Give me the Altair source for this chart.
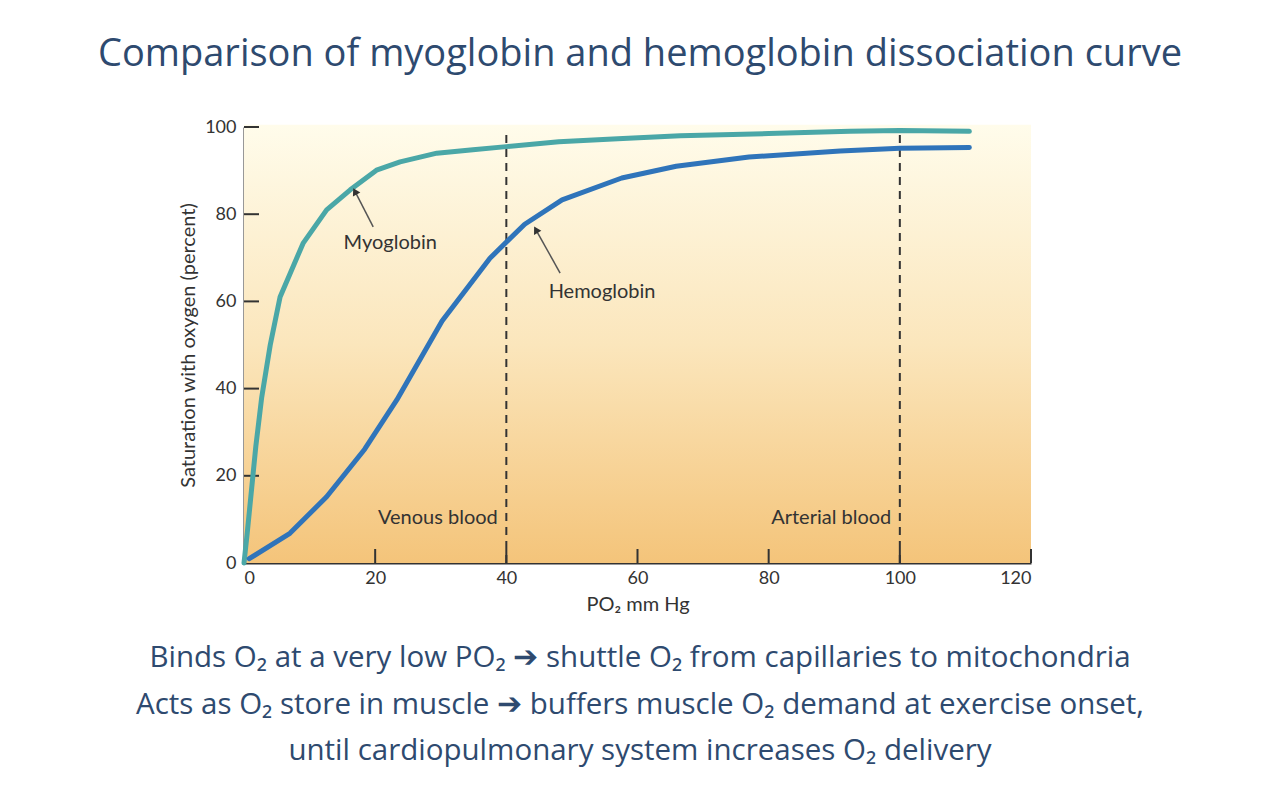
import altair as alt
import pandas as pd

# ---- data ----
myo_po2 = [0, 0.5, 1.8, 2.7, 4.0, 5.5, 9.0, 12.6, 16.2, 20.2, 23.8, 29.4, 34.5, 40, 48, 57, 66.5, 80, 92.4, 100, 110.6]
myo_sat = [0, 7, 26.7, 38, 50, 61, 73.3, 81, 85.6, 90.1, 92, 94, 94.7, 95.5, 96.6, 97.3, 98, 98.5, 99, 99.2, 99]

hb_po2 = [0.8, 7.0, 12.6, 18.4, 23.3, 30.2, 37.5, 42.8, 48.5, 57.6, 65.9, 77, 90.9, 100, 110.6]
hb_sat = [1, 6.8, 15.2, 26.1, 37.4, 55.5, 69.9, 77.7, 83.3, 88.3, 91, 93.1, 94.5, 95.1, 95.3]

x_ticks = [0, 20, 40, 60, 80, 100, 120]
y_ticks = [0, 20, 40, 60, 80, 100]
ref_po2 = [40, 100]
ref_names = ["Venous blood", "Arterial blood"]

curve_names = ["Myoglobin", "Hemoglobin"]
label_pos = [(22.3, 73.4), (54.6, 62.2)]
arrow_tail = [(19.7, 77.1), (48.2, 66.5)]
arrow_tip = [(17.0, 85.0), (44.6, 76.2)]
arrow_angle = [332, 331]

title_text = "Comparison of myoglobin and hemoglobin dissociation curve"
bottom_lines = [
    "Binds O\u2082 at a very low PO\u2082 \u2794 shuttle O\u2082 from capillaries to mitochondria",
    "Acts as O\u2082 store in muscle \u2794 buffers muscle O\u2082 demand at exercise onset,",
    "until cardiopulmonary system increases O\u2082 delivery",
]

# ---- tables ----
myo_df = pd.DataFrame({"po2": myo_po2, "sat": myo_sat})
hb_df = pd.DataFrame({"po2": hb_po2, "sat": hb_sat})
bg_df = pd.DataFrame({"x": [0], "x2": [120], "y": [0], "y2": [100.5]})
xt_df = pd.DataFrame({"v": x_ticks[1:]})
yt_df = pd.DataFrame({"v": y_ticks[1:]})
ref_df = pd.DataFrame({"po2": ref_po2, "name": ref_names, "lab_x": [p - 1.3 for p in ref_po2],
                       "y0": [0] * 2, "y1": [99] * 2, "ly": [10.3] * 2})
lab_df = pd.DataFrame({"name": curve_names, "x": [p[0] for p in label_pos], "y": [p[1] for p in label_pos]})
arr_df = pd.DataFrame({
    "x": [t[0] for t in arrow_tail], "y": [t[1] for t in arrow_tail],
    "x2": [t[0] for t in arrow_tip], "y2": [t[1] for t in arrow_tip],
    "angle": arrow_angle,
})

AX = "#333333"
LAB_FONT = "Lato"

xs = alt.Scale(domain=[0, 120], nice=False, zero=False)
ys = alt.Scale(domain=[0, 100], nice=False, zero=False)

bg = alt.Chart(bg_df).mark_rect(
    color=alt.Gradient(
        gradient="linear",
        stops=[
            alt.GradientStop(color="#FFFCEB", offset=0),
            alt.GradientStop(color="#FBE6BC", offset=0.5),
            alt.GradientStop(color="#F4C47A", offset=1),
        ],
        x1=0, x2=0, y1=0, y2=1,
    )
).encode(
    x=alt.X("x:Q", scale=xs, axis=alt.Axis(
        values=x_ticks, title="PO\u2082 mm Hg", ticks=False, domain=True, domainColor=AX, domainWidth=2,
        labelFont=LAB_FONT, labelFontSize=18, labelColor=AX, labelPadding=6, grid=False,
        titleFont=LAB_FONT, titleFontSize=20, titleColor=AX, titleFontWeight="normal", titlePadding=7)),
    x2="x2:Q",
    y=alt.Y("y:Q", scale=ys, axis=alt.Axis(
        values=y_ticks, title="Saturation with oxygen (percent)", ticks=False, domain=True, domainColor=AX,
        domainWidth=2, labelFont=LAB_FONT, labelFontSize=18, labelColor=AX, labelPadding=8, grid=False,
        titleFont=LAB_FONT, titleFontSize=20, titleColor=AX, titleFontWeight="normal", titlePadding=6)),
    y2="y2:Q",
)

xtick = alt.Chart(xt_df).mark_rule(color=AX, strokeWidth=2).encode(
    x=alt.X("v:Q", scale=xs), y=alt.value(436), y2=alt.value(422))
ytick = alt.Chart(yt_df).mark_rule(color=AX, strokeWidth=2).encode(
    y=alt.Y("v:Q", scale=ys), x=alt.value(0), x2=alt.value(15))

refs = alt.Chart(ref_df).mark_rule(color=AX, strokeWidth=2, strokeDash=[8, 6]).encode(
    x=alt.X("po2:Q", scale=xs), y=alt.Y("y0:Q", scale=ys), y2="y1:Q")
ref_txt = alt.Chart(ref_df).mark_text(align="right", baseline="middle", font=LAB_FONT, fontSize=20, color=AX).encode(
    x=alt.X("lab_x:Q", scale=xs), y=alt.Y("ly:Q", scale=ys), text="name:N")

myo = alt.Chart(myo_df).mark_line(color="#4AA7A7", strokeWidth=5, strokeCap="round", strokeJoin="round").encode(
    x=alt.X("po2:Q", scale=xs), y=alt.Y("sat:Q", scale=ys))
hb = alt.Chart(hb_df).mark_line(color="#2F74BA", strokeWidth=5, strokeCap="round", strokeJoin="round").encode(
    x=alt.X("po2:Q", scale=xs), y=alt.Y("sat:Q", scale=ys))

arr_line = alt.Chart(arr_df).mark_rule(color="#555555", strokeWidth=1.5).encode(
    x=alt.X("x:Q", scale=xs), y=alt.Y("y:Q", scale=ys), x2="x2:Q", y2="y2:Q")
arr_head = alt.Chart(arr_df).mark_point(shape="triangle", filled=True, color="#333333", size=70, opacity=1).encode(
    x=alt.X("x2:Q", scale=xs), y=alt.Y("y2:Q", scale=ys), angle=alt.Angle("angle:Q", scale=None))
labs = alt.Chart(lab_df).mark_text(align="center", baseline="middle", font=LAB_FONT, fontSize=20, color=AX).encode(
    x=alt.X("x:Q", scale=xs), y=alt.Y("y:Q", scale=ys), text="name:N")

TXT = "#2E4A6F"
title = alt.Chart(pd.DataFrame({"t": [title_text]})).mark_text(
    align="center", baseline="middle", font="Open Sans", fontSize=38, color=TXT).encode(
    x=alt.value(396), y=alt.value(-72), text="t:N")

bottom_y = [531, 578, 624]
bottom_layers = []
for i, line in enumerate(bottom_lines):
    bottom_layers.append(
        alt.Chart(pd.DataFrame({"t": [line]})).mark_text(
            align="center", baseline="middle", font="Open Sans", fontSize=29.5, color=TXT).encode(
            x=alt.value(396), y=alt.value(bottom_y[i]), text="t:N")
    )

chart = alt.layer(bg, refs, ref_txt, xtick, ytick, myo, hb, arr_line, arr_head, labs, title, *bottom_layers).properties(
    width=787, height=436,
    autosize=alt.AutoSizeParams(type="none"),
    padding={"left": 244, "top": 127, "right": 249, "bottom": 237},
    background="white",
).configure_view(stroke=None)

chart.save("out.html", embed_options={"renderer": "svg", "actions": False})
